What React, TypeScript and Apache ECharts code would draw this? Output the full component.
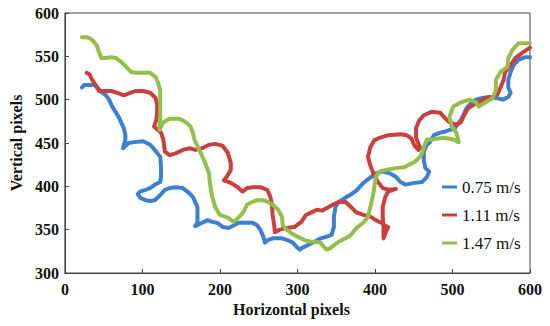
import React, { useEffect, useRef } from "react";
import * as echarts from "echarts";

const seriesNames = ["0.75 m/s", "1.11 m/s", "1.47 m/s"];
const seriesColors = ["#3d7fd0", "#c9403f", "#93bf4c"];

const xTicks = [0, 100, 200, 300, 400, 500, 600];
const yTicks = [300, 350, 400, 450, 500, 550, 600];

const blue: [number, number][] = [
  [22,514],[25,517],[38,517],[42,514],[47,509],[53,505],[57,500],[61,492],[66,485],[70,479],[73,473],[76,467],[78,459],[78,454],[75,444],[82,450],[89,451],[101,452],[110,448],[116,442],[123,434],[124,422],[124,411],[123,405],[116,402],[110,398],[104,396],[97,394],[94,391],[97,387],[104,384],[110,383],[116,384],[123,390],[129,396],[135,398],[143,399],[152,398],[158,394],[165,388],[168,382],[171,376],[171,365],[171,358],[168,354],[177,358],[184,361],[190,359],[196,358],[204,353],[211,352],[218,355],[224,358],[233,358],[242,358],[248,355],[252,350],[256,342],[258,335],[262,338],[268,340],[280,340],[287,338],[294,335],[299,330],[303,327],[306,329],[313,332],[322,336],[330,340],[338,342],[344,344],[347,353],[347,365],[349,376],[353,382],[362,387],[368,390],[376,395],[385,404],[394,410],[401,415],[410,417],[419,415],[427,411],[433,405],[439,402],[451,404],[461,405],[467,411],[470,417],[465,421],[463,430],[463,440],[467,448],[471,451],[476,459],[484,462],[490,463],[496,465],[503,467],[511,477],[514,482],[518,490],[524,496],[530,500],[539,502],[547,503],[556,502],[565,500],[572,503],[575,508],[572,514],[572,523],[575,532],[579,540],[585,546],[594,549],[600,549]
];

const red: [number, number][] = [
  [28,531],[32,529],[35,523],[41,515],[44,510],[51,510],[60,510],[67,508],[76,505],[85,508],[91,510],[101,510],[110,508],[117,502],[119,494],[119,485],[118,477],[115,469],[120,465],[124,462],[127,454],[129,440],[135,436],[143,438],[152,442],[161,444],[168,442],[177,444],[186,448],[194,449],[203,447],[210,439],[214,427],[214,419],[208,410],[205,407],[214,404],[223,399],[229,394],[235,398],[243,399],[252,399],[261,396],[265,388],[267,379],[268,367],[270,355],[271,347],[277,350],[286,352],[296,353],[305,359],[311,367],[318,370],[325,373],[332,372],[338,375],[344,378],[353,382],[362,382],[368,377],[376,370],[385,367],[394,365],[401,361],[408,358],[414,354],[417,353],[414,347],[411,340],[411,354],[410,365],[410,376],[413,387],[417,394],[427,397],[418,396],[410,398],[403,406],[398,415],[394,424],[391,434],[394,445],[399,453],[406,456],[417,459],[433,460],[441,459],[447,455],[451,447],[456,442],[458,445],[453,456],[453,467],[457,476],[463,482],[473,486],[484,485],[490,479],[496,474],[505,471],[511,474],[515,482],[520,490],[527,494],[534,497],[543,502],[552,503],[558,506],[562,514],[566,523],[568,532],[575,540],[581,548],[590,554],[600,560]
];

const green: [number, number][] = [
  [22,572],[29,572],[35,569],[41,563],[44,555],[47,548],[53,548],[60,549],[66,548],[72,544],[79,538],[85,532],[91,531],[101,531],[110,531],[117,526],[120,520],[123,511],[123,496],[123,480],[122,465],[127,474],[135,478],[148,478],[156,474],[162,469],[165,462],[167,454],[175,439],[181,427],[186,415],[187,404],[190,388],[194,376],[200,367],[210,364],[218,359],[224,364],[230,370],[235,379],[242,382],[248,384],[256,384],[262,382],[268,379],[275,373],[280,365],[281,355],[286,350],[292,346],[300,342],[309,338],[318,336],[324,336],[330,335],[334,330],[338,327],[343,329],[347,332],[353,336],[362,340],[368,343],[376,352],[385,358],[391,365],[394,376],[398,392],[400,404],[401,411],[406,417],[414,419],[427,421],[438,422],[444,425],[451,428],[457,433],[461,439],[463,445],[467,454],[473,454],[489,456],[501,454],[508,451],[505,462],[499,469],[496,480],[501,492],[511,497],[522,500],[530,497],[534,492],[541,496],[552,502],[556,511],[556,523],[562,532],[571,538],[572,548],[577,557],[585,565],[600,565]
];

const seriesData = [blue, red, green];

export default function App() {
  const ref = useRef<HTMLDivElement>(null);
  useEffect(() => {
    document.body.style.margin = "0";
    const chart = echarts.init(ref.current!, null, { renderer: "svg" });
    const font = "'Liberation Serif', 'Times New Roman', serif";
    const axisColor = "#444";
    chart.setOption({
      animation: false,
      backgroundColor: "#fff",
      grid: { left: 56, right: 20, top: 13, bottom: 53, show: true, borderColor: axisColor, borderWidth: 1, backgroundColor: "transparent" },
      legend: {
        orient: "vertical",
        left: 437,
        top: 173,
        itemWidth: 15,
        itemHeight: 3,
        itemGap: 10,
        icon: "rect",
        data: seriesNames,
        textStyle: { fontFamily: font, fontSize: 17, color: "#111", lineHeight: 18 },
      },
      xAxis: {
        type: "value",
        min: xTicks[0],
        max: xTicks[xTicks.length - 1],
        interval: 100,
        name: "Horizontal pixels",
        nameLocation: "middle",
        nameGap: 26,
        nameTextStyle: { fontFamily: font, fontSize: 16, fontWeight: "bold", color: "#111", padding: [0, 12, 0, 0] },
        axisLine: { show: true, lineStyle: { color: axisColor, width: 1 } },
        axisTick: { show: true, inside: true, length: 4, lineStyle: { color: axisColor } },
        axisLabel: { fontFamily: font, fontSize: 16, fontWeight: "bold", color: "#111", margin: 8 },
        splitLine: { show: false },
      },
      yAxis: {
        type: "value",
        min: yTicks[0],
        max: yTicks[yTicks.length - 1],
        interval: 50,
        name: "Vertical pixels",
        nameLocation: "middle",
        nameGap: 37,
        nameTextStyle: { fontFamily: font, fontSize: 16, fontWeight: "bold", color: "#111" },
        axisLine: { show: true, lineStyle: { color: axisColor, width: 1 } },
        axisTick: { show: true, inside: true, length: 4, lineStyle: { color: axisColor } },
        axisLabel: { fontFamily: font, fontSize: 16, fontWeight: "bold", color: "#111", margin: 6 },
        splitLine: { show: false },
      },
      series: seriesNames.map((name, i) => ({
        name,
        type: "line",
        data: seriesData[i],
        showSymbol: false,
        symbol: "none",
        color: seriesColors[i],
        lineStyle: { width: 4, color: seriesColors[i], join: "round", cap: "round" },
        z: 2 + i,
      })),
    });
    return () => chart.dispose();
  }, []);
  return <div ref={ref} style={{ position: "fixed", left: 0, top: 0, width: 550, height: 326 }} />;
}
